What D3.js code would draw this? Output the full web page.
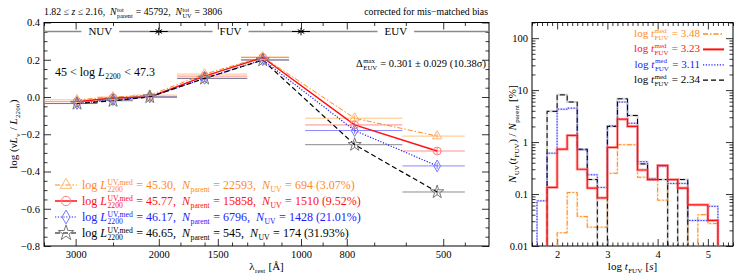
<!DOCTYPE html>
<html>
<head>
<meta charset="utf-8">
<script src="https://cdn.jsdelivr.net/npm/d3@7"></script>
<style>
  body { margin: 0; background: #fff; }
  svg { display: block; }
  text { font-family: "Liberation Serif", "DejaVu Serif", serif; white-space: pre; }
</style>
</head>
<body>
<svg id="chart"></svg>
<script>
// ---- data ----
const zRange = [1.82, 2.16];
const nParentTot = 45792;
const nUVTot = 3806;

// left panel: composite SED points
const wavelength = [2980, 2500, 2090, 1600, 1205, 770, 515];
const bandLo = [3500, 2700, 2270, 1830, 1340, 980, 610];
const bandHi = [2700, 2270, 1830, 1300, 1060, 610, 450];
const sedOrange = [-0.015, 0.00, 0.01, 0.123, 0.215, -0.114, -0.21];
const sedRed    = [-0.025, -0.005, 0.00, 0.112, 0.212, -0.15, -0.29];
const sedBlue   = [-0.035, -0.015, 0.00, 0.10, 0.20, -0.18, -0.37];
const sedBlack  = [-0.035, -0.02, 0.00, 0.10, 0.198, -0.256, -0.51];

const lumMed  = [45.30, 45.77, 46.17, 46.65];
const nParent = [22593, 15858, 6796, 545];
const nUV     = [694, 1510, 1428, 174];
const pctUV   = [3.07, 9.52, 21.01, 31.93];

const bandNames = ["NUV", "FUV", "EUV"];
const bandLabelAt = [2660, 1410, 630];
const bandEdges = [2000, 1000];

const xTicksL = [3000, 2000, 1500, 1000, 800, 500];
const xMinorL = [3500, 2500, 1800, 1600, 1400, 1300, 1200, 1100, 900, 700, 600, 450];
const yTicksL = [-0.8, -0.6, -0.4, -0.2, 0.0, 0.2, 0.4];

// right panel: histograms of t_FUV
const histEdges = [1.6, 1.8, 2.0, 2.2, 2.4, 2.6, 2.8, 3.0, 3.2, 3.4, 3.6, 3.8, 4.0, 4.2, 4.4, 4.6, 4.8, 5.0, 5.2, 5.4];
const histOrange = [0, 0, 0.018, 0.107, 0.037, 0.023, 0.023, 0.25, 0.89, 0.89, 0.21, 0.19, 0.076, 0.19, 0.13, 0, 0.04, 0.027, 0];
const histRed    = [0, 0.134, 0.73, 1.34, 0.30, 0.13, 0.084, 0.79, 2.76, 2.0, 0.29, 0.19, 0.355, 0.19, 0.13, 0.062, 0.062, 0.031, 0];
const histBlue   = [0.074, 0.61, 4.3, 4.5, 0.71, 0.235, 0.134, 2.06, 5.9, 2.3, 0.42, 0.20, 0.34, 0.16, 0.16, 0.031, 0.031, 0.058, 0];
const histBlack  = [0, 3.9, 8.1, 5.9, 0.73, 0.19, 0, 2.0, 6.8, 3.25, 0.38, 0.19, 0.19, 0, 0.19, 0, 0, 0, 0];
const tMed = [3.48, 3.23, 3.11, 2.34];

const xTicksR = [2, 3, 4, 5];
const yTicksR = [0.01, 0.1, 1, 10, 100];

// ---- setup ----
const W = 747, H = 274;
const svg = d3.select("#chart").attr("width", W).attr("height", H);

const L = {x0: 44, x1: 489, y0: 22.5, y1: 246};
const R = {x0: 532, x1: 733, y0: 22.5, y1: 246};

const xL = d3.scaleLog().domain([3500, 400]).range([L.x0, L.x1]);
const yL = d3.scaleLinear().domain([-0.8, 0.4]).range([L.y1, L.y0]);
const xR = d3.scaleLinear().domain([1.5, 5.5]).range([R.x0, R.x1]);
const yR = d3.scaleLog().domain([0.01, 200]).range([R.y1, R.y0]).clamp(true);

const series = [
  {sed: sedOrange, hist: histOrange, color: "#ff8a1e", light: "#ffb870", dash: "5,2,1.5,2", w: 1, sym: d3.symbolTriangle, size: 38, lsize: 58},
  {sed: sedRed, hist: histRed, color: "#ff1010", light: "#ff7a7a", dash: null, w: 1.5, sym: d3.symbolCircle, size: 48, lsize: 68},
  {sed: sedBlue, hist: histBlue, color: "#2020ff", light: "#7777ff", dash: "1.2,1.6", w: 1.2, sym: d3.symbolDiamond, size: 40, lsize: 55},
  {sed: sedBlack, hist: histBlack, color: "#000", light: "#777", dash: "5,3", w: 1.2, sym: d3.symbolStar, size: 55, lsize: 75}
];

// rich text: parts with italic, sub / sup
function rich(g, x, y, parts, size, color, anchor) {
  const t = g.append("g");
  let cx = 0;
  parts.forEach(p => {
    if (p.sub !== undefined || p.sup !== undefined) {
      let w = 0;
      if (p.sup) {
        const e = t.append("text").attr("x", cx + 0.5).attr("y", -size * 0.38)
          .attr("font-size", size * 0.64).text(p.sup);
        w = Math.max(w, e.node().getComputedTextLength());
      }
      if (p.sub) {
        const e = t.append("text").attr("x", cx + 0.5).attr("y", size * 0.28)
          .attr("font-size", size * 0.64).text(p.sub);
        w = Math.max(w, e.node().getComputedTextLength());
      }
      cx += w + 1;
    } else {
      const e = t.append("text").attr("x", cx).attr("y", 0)
        .attr("font-size", size)
        .attr("font-style", p.i ? "italic" : null)
        .text(p.t);
      cx += e.node().getComputedTextLength();
    }
  });
  t.selectAll("text").attr("fill", color);
  const off = anchor === "end" ? -cx : anchor === "middle" ? -cx / 2 : 0;
  t.attr("transform", `translate(${x + off},${y + size * 0.34})`);
  return cx;
}

function frame(box, x, y, xMaj, xMin, yMaj, yMin, xFmt, yFmt) {
  const g = svg.append("g");
  const add = (axis, tx, ty) => g.append("g").attr("transform", `translate(${tx},${ty})`).call(axis);
  add(d3.axisBottom(x).tickValues(xMaj).tickSize(-7).tickPadding(5).tickFormat(xFmt), 0, box.y1);
  add(d3.axisBottom(x).tickValues(xMin).tickSize(-3.5).tickFormat(""), 0, box.y1);
  add(d3.axisTop(x).tickValues(xMaj).tickSize(-7).tickFormat(""), 0, box.y0);
  add(d3.axisTop(x).tickValues(xMin).tickSize(-3.5).tickFormat(""), 0, box.y0);
  add(d3.axisLeft(y).tickValues(yMaj).tickSize(-7).tickPadding(4).tickFormat(yFmt), box.x0, 0);
  add(d3.axisLeft(y).tickValues(yMin).tickSize(-3.5).tickFormat(""), box.x0, 0);
  add(d3.axisRight(y).tickValues(yMaj).tickSize(-7).tickFormat(""), box.x1, 0);
  add(d3.axisRight(y).tickValues(yMin).tickSize(-3.5).tickFormat(""), box.x1, 0);
  g.selectAll(".domain").remove();
  g.selectAll("line").attr("stroke", "#000").attr("stroke-width", 0.8);
  g.selectAll("text").attr("font-size", 10.5).attr("font-family", null).attr("fill", "#000");
  g.append("rect").attr("x", box.x0).attr("y", box.y0)
    .attr("width", box.x1 - box.x0).attr("height", box.y1 - box.y0)
    .attr("fill", "none").attr("stroke", "#000").attr("stroke-width", 1);
}

// ---- left panel ----
const yMinorL = d3.range(-0.8, 0.4001, 0.05).filter(v => Math.abs(v * 5 - Math.round(v * 5)) > 1e-6);
frame(L, xL, yL, xTicksL, xMinorL, yTicksL, yMinorL, d => String(d), d3.format(".1f"));

const gl = svg.append("g");

// band row
const bandY = 31.5;
const gaps = bandNames.map((name, i) => {
  const cx = xL(bandLabelAt[i]);
  const w = rich(gl, cx, bandY, [{t: name}], 11, "#000", "middle");
  return [cx - w / 2 - 7, cx + w / 2 + 7];
});
const segs = [[L.x0, gaps[0][0]], [gaps[0][1], gaps[1][0]], [gaps[1][1], gaps[2][0]], [gaps[2][1], L.x1]];
gl.selectAll(".bandline").data(segs).join("line")
  .attr("x1", d => d[0]).attr("x2", d => d[1]).attr("y1", bandY).attr("y2", bandY)
  .attr("stroke", "#8a8a8a").attr("stroke-width", 1.4);
bandEdges.forEach(b => {
  const cx = xL(b);
  gl.append("line").attr("x1", cx - 9).attr("x2", cx + 9).attr("y1", bandY).attr("y2", bandY)
    .attr("stroke", "#000").attr("stroke-width", 1);
  gl.append("path").attr("transform", `translate(${cx},${bandY})`)
    .attr("d", d3.symbol(d3.symbolAsterisk, 40)())
    .attr("fill", "none").attr("stroke", "#000").attr("stroke-width", 1);
});

// horizontal band-width bars
series.forEach(s => {
  gl.append("g").selectAll("line").data(s.sed).join("line")
    .attr("x1", (d, i) => xL(bandLo[i])).attr("x2", (d, i) => xL(bandHi[i]))
    .attr("y1", d => yL(d)).attr("y2", d => yL(d))
    .attr("stroke", s.light).attr("stroke-opacity", 0.85).attr("stroke-width", 1);
  gl.append("g").selectAll("line").data(s.sed).join("line")
    .attr("x1", (d, i) => xL(wavelength[i])).attr("x2", (d, i) => xL(wavelength[i]))
    .attr("y1", d => yL(d) - 3).attr("y2", d => yL(d) + 3)
    .attr("stroke", s.light).attr("stroke-width", 1);
});

const sedLine = vals => d3.line().x((d, i) => xL(wavelength[i])).y(d => yL(d))(vals);
series.forEach(s => {
  gl.append("path").attr("d", sedLine(s.sed))
    .attr("fill", "none").attr("stroke", s.color).attr("stroke-width", s.w)
    .attr("stroke-dasharray", s.dash);
});
series.forEach(s => {
  gl.append("g").selectAll("path").data(s.sed).join("path")
    .attr("transform", (d, i) => `translate(${xL(wavelength[i])},${yL(d)})`)
    .attr("d", d3.symbol(s.sym, s.size)())
    .attr("fill", "none").attr("stroke", s.light).attr("stroke-width", 1);
});

// texts
rich(gl, 55, 72, [{t: "45 < log "}, {t: "L", i: 1}, {sub: "2200"}, {t: " < 47.3"}], 12, "#000", "start");
rich(gl, 486, 63, [{t: "Δ"}, {sub: "EUV", sup: "max"}, {t: " = 0.301 ± 0.029 (10.38σ)"}], 10.5, "#000", "end");
rich(svg, 44, 12, [{t: `${zRange[0]} ≤ `}, {t: "z", i: 1}, {t: ` ≤ ${zRange[1]},  `}, {t: "N", i: 1}, {sub: "parent", sup: "tot"},
  {t: ` = ${nParentTot},  `}, {t: "N", i: 1}, {sub: "UV", sup: "tot"}, {t: ` = ${nUVTot}`}], 9.8, "#000", "start");
rich(svg, 488, 12, [{t: "corrected for mis−matched bias"}], 9.8, "#000", "end");

// legend
series.forEach((s, i) => {
  const cy = 185 + i * 16;
  gl.append("line").attr("x1", 55).attr("x2", 77).attr("y1", cy).attr("y2", cy)
    .attr("stroke", s.color).attr("stroke-width", s.w).attr("stroke-dasharray", s.dash);
  gl.append("path").attr("transform", `translate(66,${cy})`)
    .attr("d", d3.symbol(s.sym, s.lsize)()).attr("fill", "none").attr("stroke", s.light).attr("stroke-width", 1);
  rich(gl, 82, cy, [{t: "log "}, {t: "L", i: 1}, {sub: "2200", sup: "UV,med"}, {t: ` = ${lumMed[i].toFixed(2)},  `},
    {t: "N", i: 1}, {sub: "parent"}, {t: ` = ${nParent[i]},  `}, {t: "N", i: 1}, {sub: "UV"},
    {t: ` = ${nUV[i]} (${pctUV[i].toFixed(2)}%)`}], 12, s.color, "start");
});

// axis titles
rich(svg, (L.x0 + L.x1) / 2, 266, [{t: "λ"}, {sub: "rest"}, {t: " [Å]"}], 11, "#000", "middle");
const ylab = svg.append("g").attr("transform", `translate(13,${(L.y0 + L.y1) / 2}) rotate(-90)`);
rich(ylab, 0, 0, [{t: "log (ν"}, {t: "L", i: 1}, {sub: "ν"}, {t: " / "}, {t: "L", i: 1}, {sub: "2200"}, {t: ")"}], 11, "#000", "middle");

// ---- right panel ----
const xMinorR = d3.range(1.5, 5.51, 0.1).filter(v => Math.abs(v - Math.round(v)) > 1e-6);
const yMinorR = [];
[0.01, 0.1, 1, 10, 100].forEach(dec => d3.range(2, 10).forEach(k => { if (dec * k <= 200) yMinorR.push(dec * k); }));
frame(R, xR, yR, xTicksR, xMinorR, yTicksR, yMinorR, d => String(d), d => String(d));

svg.append("clipPath").attr("id", "clipR").append("rect")
  .attr("x", R.x0).attr("y", R.y0).attr("width", R.x1 - R.x0).attr("height", R.y1 - R.y0);
const gr = svg.append("g").attr("clip-path", "url(#clipR)");

function stepPath(vals) {
  const pts = [[xR(histEdges[0]), R.y1 + 2]];
  vals.forEach((v, i) => {
    const y = v > 0 ? yR(v) : R.y1 + 2;
    pts.push([xR(histEdges[i]), y], [xR(histEdges[i + 1]), y]);
  });
  pts.push([xR(histEdges[histEdges.length - 1]), R.y1 + 2]);
  return "M" + pts.map(p => p.join(",")).join("L");
}
const drawOrder = [0, 2, 3, 1];
drawOrder.forEach(k => {
  const s = series[k];
  gr.append("path").attr("d", stepPath(s.hist)).attr("fill", "none")
    .attr("stroke", s.light).attr("stroke-opacity", k === 1 ? 0.6 : 0.35)
    .attr("stroke-width", k === 1 ? 3 : 2);
  gr.append("path").attr("d", stepPath(s.hist)).attr("fill", "none")
    .attr("stroke", s.color).attr("stroke-width", k === 1 ? 1.2 : 1)
    .attr("stroke-dasharray", s.dash);
});

// right legend
series.forEach((s, i) => {
  const cy = 33 + i * 15.4;
  rich(svg, 700, cy, [{t: "log "}, {t: "t", i: 1}, {sub: "FUV", sup: "med"}, {t: ` = ${tMed[i].toFixed(2)}`}], 11, s.color, "end");
  svg.append("line").attr("x1", 703).attr("x2", 724).attr("y1", cy + 1).attr("y2", cy + 1)
    .attr("stroke", s.color).attr("stroke-width", i === 1 ? 2 : 1.3)
    .attr("stroke-dasharray", s.dash);
});

rich(svg, (R.x0 + R.x1) / 2, 266, [{t: "log "}, {t: "t", i: 1}, {sub: "FUV"}, {t: " ["}, {t: "s", i: 1}, {t: "]"}], 11, "#000", "middle");
const ylabR = svg.append("g").attr("transform", `translate(512,${(R.y0 + R.y1) / 2}) rotate(-90)`);
rich(ylabR, 0, 0, [{t: "N", i: 1}, {sub: "UV"}, {t: "("}, {t: "t", i: 1}, {sub: "FUV"}, {t: ") / "}, {t: "N", i: 1},
  {sub: "parent"}, {t: " [%]"}], 11, "#000", "middle");
</script>
</body>
</html>
